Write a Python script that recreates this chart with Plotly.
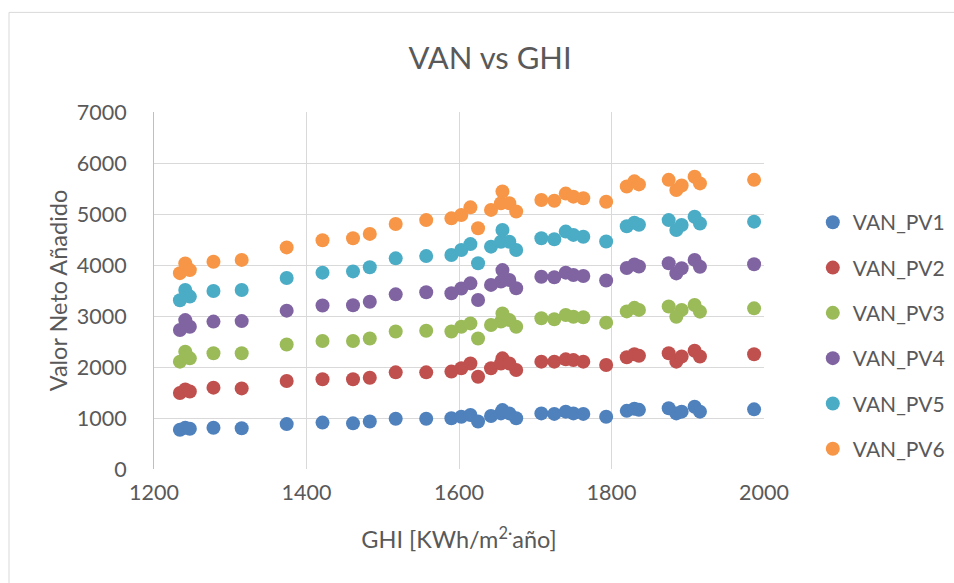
import plotly.graph_objects as go

# GHI per site [kWh/m2·año]
ghi = [1234, 1241, 1247, 1278, 1315, 1374, 1421, 1461, 1483, 1517, 1557,
       1590, 1603, 1615, 1625, 1642, 1655, 1657, 1666, 1675,
       1708, 1725, 1740, 1750, 1763, 1793, 1820, 1830, 1836,
       1875, 1885, 1892, 1909, 1916, 1987]

# Valor Neto Añadido for each PV configuration
van_pv1 = [770, 810, 790, 810, 800, 880, 910, 895, 930, 985, 985,
           995, 1025, 1060, 930, 1040, 1090, 1155, 1090, 995,
           1090, 1080, 1125, 1090, 1080, 1025, 1140, 1180, 1160,
           1190, 1090, 1125, 1220, 1125, 1170]
van_pv2 = [1490, 1560, 1520, 1595, 1580, 1725, 1760, 1760, 1790, 1895, 1895,
           1910, 1975, 2070, 1810, 1975, 2070, 2170, 2070, 1940,
           2105, 2105, 2150, 2135, 2105, 2040, 2190, 2250, 2220,
           2270, 2105, 2205, 2320, 2205, 2250]
van_pv3 = [2105, 2300, 2170, 2270, 2270, 2440, 2510, 2510, 2560, 2695, 2710,
           2695, 2790, 2855, 2560, 2825, 2890, 3050, 2920, 2790,
           2955, 2935, 3020, 2985, 2975, 2870, 3090, 3160, 3120,
           3185, 2985, 3120, 3215, 3085, 3150]
van_pv4 = [2725, 2920, 2790, 2890, 2900, 3105, 3205, 3210, 3280, 3425, 3465,
           3445, 3540, 3640, 3315, 3610, 3675, 3900, 3705, 3545,
           3770, 3760, 3850, 3805, 3785, 3695, 3940, 4010, 3970,
           4035, 3835, 3935, 4100, 3965, 4015]
van_pv5 = [3310, 3510, 3380, 3490, 3510, 3745, 3850, 3875, 3955, 4130, 4175,
           4195, 4295, 4410, 4035, 4360, 4455, 4685, 4455, 4295,
           4525, 4505, 4655, 4590, 4555, 4460, 4760, 4830, 4790,
           4880, 4685, 4785, 4945, 4815, 4850]
van_pv6 = [3840, 4030, 3900, 4065, 4100, 4345, 4485, 4525, 4610, 4805, 4880,
           4915, 4980, 5130, 4720, 5080, 5210, 5440, 5210, 5050,
           5275, 5260, 5400, 5340, 5310, 5240, 5540, 5640, 5580,
           5670, 5470, 5560, 5730, 5600, 5670]

series_names = ["VAN_PV1", "VAN_PV2", "VAN_PV3", "VAN_PV4", "VAN_PV5", "VAN_PV6"]
series_values = [van_pv1, van_pv2, van_pv3, van_pv4, van_pv5, van_pv6]
colors = ["#4F81BD", "#C0504D", "#9BBB59", "#8064A2", "#4BACC6", "#F79646"]

FONT = "Lato, 'Open Sans', sans-serif"
TEXT = "#595959"

fig = go.Figure()
for name, vals, col in zip(series_names, series_values, colors):
    fig.add_trace(go.Scatter(
        x=ghi, y=vals, mode="markers", name=name, legendgroup=name,
        marker=dict(color=col, size=14, line=dict(width=0)),
    ))

fig.update_layout(
    width=954, height=583,
    margin=dict(l=154, r=190, t=112, b=114, autoexpand=False),
    paper_bgcolor="white", plot_bgcolor="white",
    font=dict(family=FONT, color=TEXT, size=21),
    title=dict(text="VAN vs GHI", x=0.551, xref="paper", xanchor="center",
               y=0.9, yref="container", yanchor="middle",
               font=dict(size=31, color=TEXT, family=FONT)),
    legend=dict(x=1.080, xanchor="left", y=0.3736, yanchor="middle",
                font=dict(size=21, color=TEXT), tracegroupgap=15,
                bgcolor="rgba(0,0,0,0)"),
    showlegend=True,
)

fig.update_xaxes(
    range=[1200, 2000], tickvals=[1200, 1400, 1600, 1800, 2000],
    showgrid=True, gridcolor="#D9D9D9", gridwidth=1,
    zeroline=False, showline=False, ticks="", ticklabelstandoff=8,
    tickfont=dict(size=21.5, color=TEXT),
    title=dict(text="GHI [KWh/m<sup>2·</sup>año]", standoff=28,
               font=dict(size=23.5, color=TEXT)),
)
fig.update_yaxes(
    range=[0, 7000], tickvals=[0, 1000, 2000, 3000, 4000, 5000, 6000, 7000],
    showgrid=True, gridcolor="#D9D9D9", gridwidth=1,
    zeroline=False, showline=True, linecolor="#BFBFBF", linewidth=1,
    ticks="", ticklabelstandoff=22,
    tickfont=dict(size=21.5, color=TEXT),
    title=dict(text="Valor Neto Añadido", standoff=2,
               font=dict(size=23.5, color=TEXT)),
)

# Chart frame: top and left edges
fig.add_shape(type="line", xref="paper", yref="paper",
              x0=(9 - 154) / 610, x1=(954 - 154) / 610,
              y0=(469 - 12) / 357.3, y1=(469 - 12) / 357.3,
              line=dict(color="#D9D9D9", width=1))
fig.add_shape(type="line", xref="paper", yref="paper",
              x0=(9 - 154) / 610, x1=(9 - 154) / 610,
              y0=(469 - 12) / 357.3, y1=(469 - 583) / 357.3,
              line=dict(color="#D9D9D9", width=1))

fig.write_html("out.html")
